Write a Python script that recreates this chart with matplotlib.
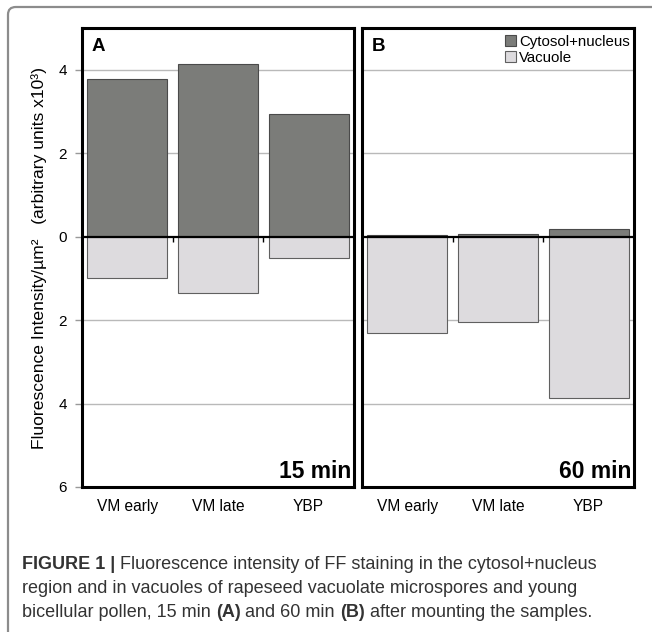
import matplotlib
matplotlib.use("Agg")
from matplotlib import pyplot as plt
from matplotlib.patches import FancyBboxPatch, Patch
import numpy as np

plt.rcParams['font.family'] = ['Liberation Sans', 'DejaVu Sans']

# Data (arbitrary units x10^3), vacuole drawn below zero
stages = ["VM early", "VM late", "YBP"]
cytosol_15 = [3.78, 4.13, 2.93]
vacuole_15 = [1.0, 1.34, 0.51]
cytosol_60 = [0.04, 0.07, 0.18]
vacuole_60 = [2.32, 2.05, 3.86]
panel_letters = ["A", "B"]
panel_times = ["15 min", "60 min"]
y_ticks = [-6, -4, -2, 0, 2, 4]

dark = "#7b7c79"
light = "#dddbde"

fig = plt.figure(figsize=(6.52, 6.32), dpi=100)

# outer frame (only the top-left corner is in view)
frame = FancyBboxPatch((8 / 652, -0.2), 1.2, 1.2 - 7 / 632,
                       boxstyle="round,pad=0,rounding_size=0.012",
                       transform=fig.transFigure, fill=False,
                       edgecolor="#8c8c8c", linewidth=1.6)
fig.patches.append(frame)

W, H = 652, 632
boxes = [(82, 28, 272, 459), (362, 28, 272, 459)]
data = [(cytosol_15, vacuole_15), (cytosol_60, vacuole_60)]

x = np.arange(len(stages))
axes = []
for i, (bx, by, bw, bh) in enumerate(boxes):
    ax = fig.add_axes([bx / W, (H - by - bh) / H, bw / W, bh / H])
    axes.append(ax)
    cyt, vac = data[i]
    ax.set_ylim(-6, 5)
    ax.set_xlim(-0.5, len(stages) - 0.5)
    for g in [-4, -2, 2, 4]:
        ax.axhline(g, color="#b9b9b9", lw=1.0, zorder=0)
    ax.bar(x, cyt, width=0.88, color=dark, edgecolor="#4a4a4a", lw=0.8, zorder=2)
    ax.bar(x, [-v for v in vac], width=0.88, color=light, edgecolor="#606060", lw=0.8, zorder=2)
    ax.axhline(0, color="black", lw=1.6, zorder=3)
    ax.vlines(x[:-1] + 0.5, -0.12, 0, color="black", lw=1.0, zorder=3)

    for s in ax.spines.values():
        s.set_linewidth(2.2)
        s.set_color("black")
    # category labels on a common baseline
    ax.set_xticks([])
    for xi, name in zip(x, stages):
        ax.text(xi, -0.052, name, transform=ax.get_xaxis_transform(),
                ha="center", va="baseline", fontsize=11.2)
    ax.set_yticks(y_ticks)
    if i == 0:
        ax.set_yticklabels([str(abs(t)) for t in y_ticks], fontsize=11)
        ax.tick_params(axis="y", length=5, color="#999999", width=1, pad=6)
    else:
        ax.set_yticklabels([])
        ax.tick_params(axis="y", length=0)

    ax.text(0.035, 0.978, panel_letters[i], transform=ax.transAxes,
            fontsize=13.5, fontweight="bold", va="top", ha="left")
    ax.text(0.99, 0.008, panel_times[i], transform=ax.transAxes,
            fontsize=16.5, fontweight="bold", va="bottom", ha="right")

handles = [Patch(facecolor=dark, edgecolor="#4a4a4a", lw=0.8),
           Patch(facecolor=light, edgecolor="#606060", lw=0.8)]
axes[1].legend(handles, ["Cytosol+nucleus", "Vacuole"], loc="upper left",
               bbox_to_anchor=(0.50, 1.0), frameon=False, fontsize=10.8,
               handlelength=0.75, handleheight=0.75, handletextpad=0.2,
               labelspacing=0.15, borderpad=0.35, borderaxespad=0.1)

fig.text(39 / W, 1 - (28 + 459 / 2) / H,
         "Fluorescence Intensity/\u00b5m\u00b2   (arbitrary units x10\u00b3)",
         rotation=90, ha="center", va="center", fontsize=12.6)

# caption with bold runs
caption = [
    [("FIGURE 1 | ", "bold"), ("Fluorescence intensity of FF staining in the cytosol+nucleus", "normal")],
    [("region and in vacuoles of rapeseed vacuolate microspores and young", "normal")],
    [("bicellular pollen, 15 min ", "normal"), ("(A)", "bold"), (" and 60 min ", "normal"),
     ("(B)", "bold"), (" after mounting the samples.", "normal")],
]
baselines = [569, 593, 617]
fig.canvas.draw()
renderer = fig.canvas.get_renderer()
for line, yb in zip(caption, baselines):
    xpos = 22 / W
    for txt, wt in line:
        t = fig.text(xpos, 1 - yb / H, txt, fontsize=13.0, fontweight=wt,
                     color="#333333", ha="left", va="baseline")
        bb = t.get_window_extent(renderer=renderer)
        xpos = bb.x1 / W

fig.savefig("out.png", dpi=100)
